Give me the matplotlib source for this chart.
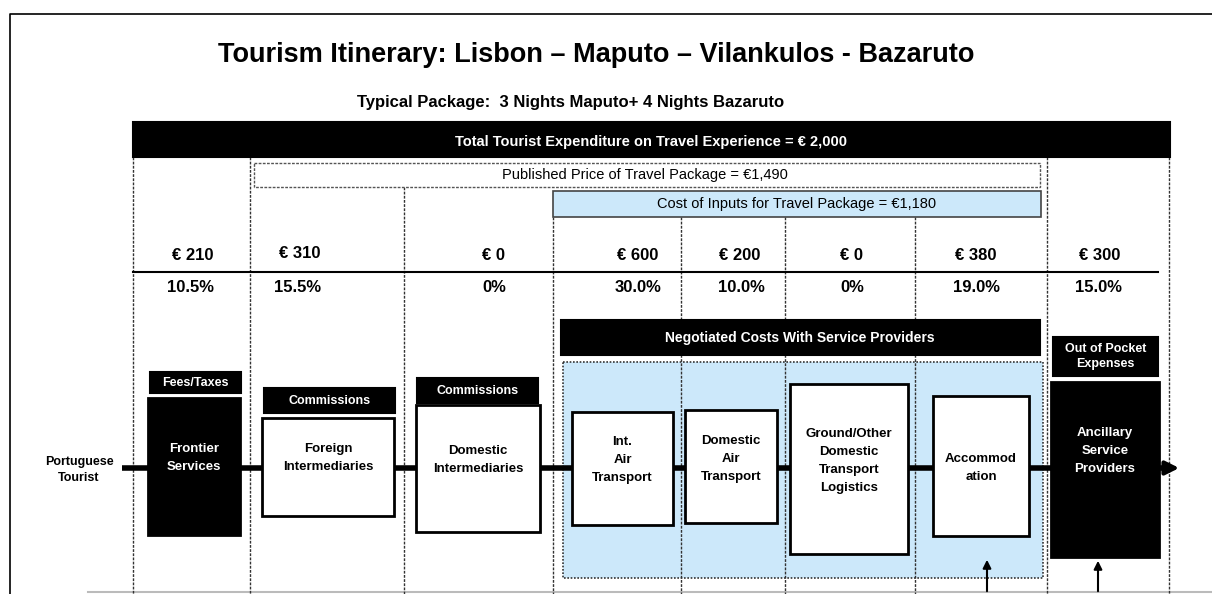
import matplotlib.pyplot as plt
from matplotlib.patches import Rectangle, FancyArrowPatch

plt.rcParams['font.family'] = ['Liberation Sans Narrow', 'Liberation Sans', 'DejaVu Sans']

# values
title = "Tourism Itinerary: Lisbon \u2013 Maputo \u2013 Vilankulos - Bazaruto"
subtitle = "Typical Package:  3 Nights Maputo+ 4 Nights Bazaruto"
total_spend = 2000
published_price = 1490
input_cost = 1180
amounts = [210, 310, 0, 600, 200, 0, 380, 300]
shares = [10.5, 15.5, 0, 30.0, 10.0, 0, 19.0, 15.0]
stage_labels = ["Frontier\nServices", "Foreign\nIntermediaries", "Domestic\nIntermediaries",
                "Int.\nAir\nTransport", "Domestic\nAir\nTransport",
                "Ground/Other\nDomestic\nTransport\nLogistics", "Accommod\nation",
                "Ancillary\nService\nProviders"]
cost_tags = ["Fees/Taxes", "Commissions", "Commissions", "Out of Pocket\nExpenses"]

# layout (pixels)
amt_x = [193, 300, 494, 638, 740, 852, 976, 1100]
amt_y = [256, 254, 256, 256, 256, 256, 256, 256]
pct_x = [190, 298, 494, 638, 741, 852, 976, 1099]
boxes = [(148, 398, 240, 535), (262, 418, 394, 516), (416, 405, 540, 532),
         (572, 412, 673, 525), (685, 410, 777, 523), (790, 384, 908, 554),
         (933, 396, 1029, 536), (1051, 382, 1159, 557)]
label_y = [458, 458, 460, 460, 459, 461, 468, 451]
dark_box = [True, False, False, False, False, False, False, True]
tag_boxes = [(150, 372, 241, 393), (264, 388, 395, 413), (417, 378, 538, 403), (1053, 337, 1158, 376)]

BLUE = '#cce8fa'

fig = plt.figure(figsize=(12.12, 5.94), dpi=100)
ax = fig.add_axes([0, 0, 1, 1])
ax.set_xlim(0, 1212)
ax.set_ylim(594, 0)
ax.axis('off')


def rect(x0, y0, x1, y1, fc='white', ec='black', lw=1.5, ls='-', z=2):
    ax.add_patch(Rectangle((x0, y0), x1 - x0, y1 - y0, facecolor=fc, edgecolor=ec,
                           linewidth=lw, linestyle=ls, zorder=z))


# outer frame
ax.plot([10, 10, 1212], [594, 14, 14], color='black', lw=1.2, zorder=1)
ax.plot([88, 1212], [592, 592], color='#bbbbbb', lw=1.5, zorder=1)

ax.text(596, 55, title, ha='center', va='center', fontsize=19.5, fontweight='bold')
ax.text(571, 103, subtitle, ha='center', va='center', fontsize=12, fontweight='bold')

# header bars
rect(133, 122, 1170, 157, fc='black', z=3)
ax.text(651, 142, f"Total Tourist Expenditure on Travel Experience = \u20ac {total_spend:,}",
        ha='center', va='center', color='white', fontsize=10.5, fontweight='bold', zorder=4)
rect(254, 163, 1040, 187, fc='white', ec='#555555', lw=1, ls=(0, (2, 1)), z=3)
ax.text(645, 175, f"Published Price of Travel Package = \u20ac{published_price:,}",
        ha='center', va='center', fontsize=10.5, zorder=4)
rect(553, 191, 1041, 217, fc=BLUE, ec='#444444', lw=1.2, z=3)
ax.text(797, 204, f"Cost of Inputs for Travel Package = \u20ac{input_cost:,}",
        ha='center', va='center', fontsize=10.5, zorder=4)

# column dividers
for x, y0 in [(133, 157), (250, 157), (404, 187), (553, 217), (681, 217),
              (785, 217), (915, 217), (1047, 157), (1169, 157)]:
    ax.plot([x, x], [y0, 594], color='#333333', lw=1, ls=(0, (2, 1)), zorder=1)

# amounts and shares
ax.plot([133, 1158], [272, 272], color='black', lw=1.5, zorder=2)
for x, y, a in zip(amt_x, amt_y, amounts):
    ax.text(x, y, f"\u20ac {a}", ha='center', va='center', fontsize=12, fontweight='bold', zorder=4)
for x, s in zip(pct_x, shares):
    lab = "0%" if s == 0 else f"{s:.1f}%"
    ax.text(x, 288, lab, ha='center', va='center', fontsize=12, fontweight='bold', zorder=4)

# negotiated costs block
rect(561, 320, 1040, 355, fc='black', z=3)
ax.text(800, 338, "Negotiated Costs With Service Providers", ha='center', va='center',
        color='white', fontsize=10, fontweight='bold', zorder=4)
rect(563, 362, 1043, 578, fc=BLUE, ec='#333333', lw=1.2, ls=(0, (1, 1)), z=0.5)

# main flow
ax.plot([122, 1168], [468, 468], color='black', lw=4, zorder=1.5, solid_capstyle='butt')
ax.add_patch(FancyArrowPatch((1160, 468), (1182, 468), arrowstyle='-|>', mutation_scale=20,
                             color='black', lw=3, zorder=1.5))
ax.text(79, 470, "Portuguese\nTourist", ha='center', va='center', fontsize=9,
        fontweight='bold', linespacing=1.4)

for (x0, y0, x1, y1), lab, cy, dark in zip(boxes, stage_labels, label_y, dark_box):
    rect(x0, y0, x1, y1, fc='black' if dark else 'white', lw=2, z=3)
    ax.text((x0 + x1) / 2, cy, lab, ha='center', va='center', fontsize=9.5, fontweight='bold',
            color='white' if dark else 'black', linespacing=1.65, zorder=4)

for (x0, y0, x1, y1), lab in zip(tag_boxes, cost_tags):
    rect(x0, y0, x1, y1, fc='black', z=3)
    ax.text((x0 + x1) / 2, (y0 + y1) / 2, lab, ha='center', va='center', fontsize=9,
            fontweight='bold', color='white', linespacing=1.4, zorder=4)

# feedback arrows from below
for x, ytop in [(987, 557), (1098, 558)]:
    ax.add_patch(FancyArrowPatch((x, 594), (x, ytop), arrowstyle='-|>', mutation_scale=12,
                                 color='black', lw=1.5, zorder=4))

fig.savefig('out.png', dpi=100)
